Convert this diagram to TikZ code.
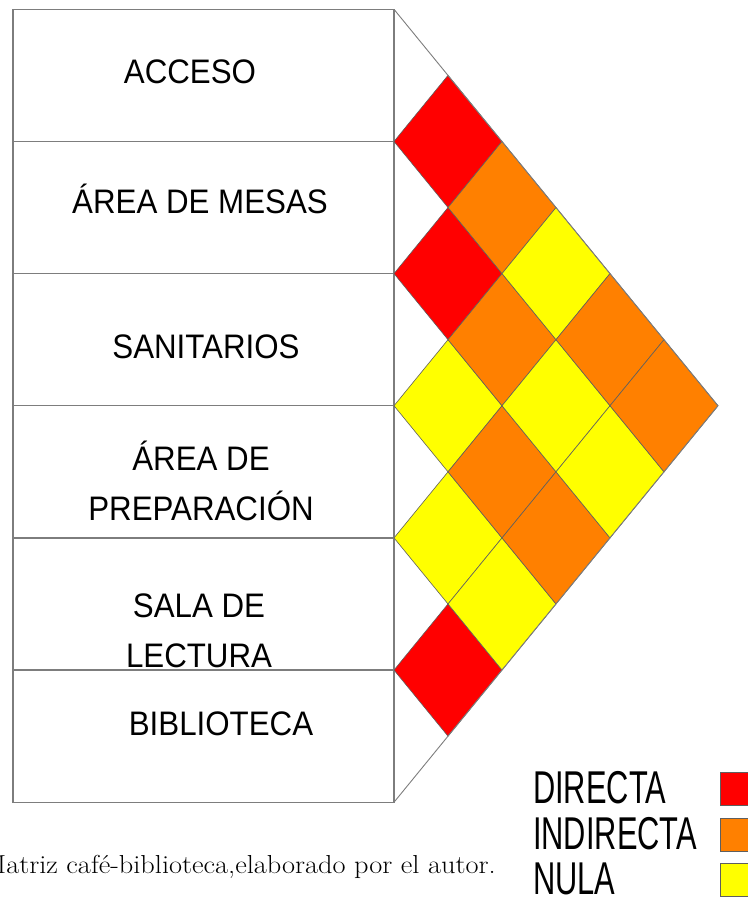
\documentclass[tikz,border=0pt]{standalone}
\usepackage{fontspec}
\setsansfont{Liberation Sans}
\usetikzlibrary{positioning}

\definecolor{directa}{RGB}{255,0,0}
\definecolor{indirecta}{RGB}{255,128,0}
\definecolor{nula}{RGB}{255,255,0}
\definecolor{borde}{RGB}{125,125,125}
\definecolor{filo}{RGB}{95,95,95}

\begin{document}
\begin{tikzpicture} [
    x=1pt, y=-1pt,
    fila/.style={draw=borde, line width=1.4pt, outer sep=0pt, inner sep=0pt,
        minimum width=381pt, minimum height=132.15pt},
    nombre/.style={font=\sffamily\fontsize{34}{50}\selectfont, align=center,
        inner sep=0pt, xscale=0.92, anchor=base},
    leyenda/.style={font=\sffamily\fontsize{46}{46}\selectfont,
        inner sep=0pt, xscale=0.67, anchor=west},
    cuadro/.style={draw=filo, line width=0.8pt, minimum size=33pt, inner sep=0pt},
    celda/.style={draw=filo, line width=0.6pt}]

\useasboundingbox (0,0) rectangle (747,902);

% Rows
\node (acceso) [fila] at (203.5,75.4) {};
\node (mesas) [fila, below = 0pt of acceso] {};
\node (sanitarios) [fila, below = 0pt of mesas] {};
\node (preparacion) [fila, below = 0pt of sanitarios] {};
\node (lectura) [fila, below = 0pt of preparacion] {};
\node (biblioteca) [fila, below = 0pt of lectura] {};

\node (n-acceso) [nombre] at (190,83) {ACCESO};
\node (n-mesas) [nombre] at (200,213) {ÁREA DE MESAS};
\node (n-sanitarios) [nombre] at (206,358) {SANITARIOS};
\node (n-preparacion) [nombre] at (201,520) {ÁREA DE\\PREPARACIÓN};
\node (n-lectura) [nombre] at (199,667) {SALA DE\\LECTURA};
\node (n-biblioteca) [nombre] at (221,735) {BIBLIOTECA};

% Cells
\foreach \i/\j/\c in {1/2/directa, 2/3/directa, 3/4/nula, 4/5/nula, 5/6/directa,
    1/3/indirecta, 2/4/indirecta, 3/5/indirecta, 4/6/nula,
    1/4/nula, 2/5/nula, 3/6/indirecta,
    1/5/indirecta, 2/6/nula,
    1/6/indirecta}
  \filldraw [celda, fill=\c] ({394+(\j-\i)*54}, {9.3+132.15*((\i+\j)/2-0.5)})
      +(-54,0) -- +(0,-66.075) -- +(54,0) -- +(0,66.075) -- cycle;

% Outline
\coordinate (vertice) at (718,405.75);
\draw [borde, line width=0.9pt] (acceso.north east) -- (vertice) -- (biblioteca.south east);

% Legend
\node (l-directa) [leyenda] at (533,788) {DIRECTA};
\node (l-indirecta) [leyenda] at (533,834) {INDIRECTA};
\node (l-nula) [leyenda] at (533,879) {NULA};

\node (c-directa) [cuadro, fill=directa] at (737,788.5) {};
\node (c-indirecta) [cuadro, fill=indirecta] at (737,835) {};
\node (c-nula) [cuadro, fill=nula] at (737,880) {};

% Caption
\node (pie) [anchor=base east, inner sep=0pt, xscale=1.09,
    font=\fontsize{26}{30}\selectfont]
    at (496,873) {Matriz café-biblioteca,elaborado por el autor.};
\end{tikzpicture}
\end{document}
